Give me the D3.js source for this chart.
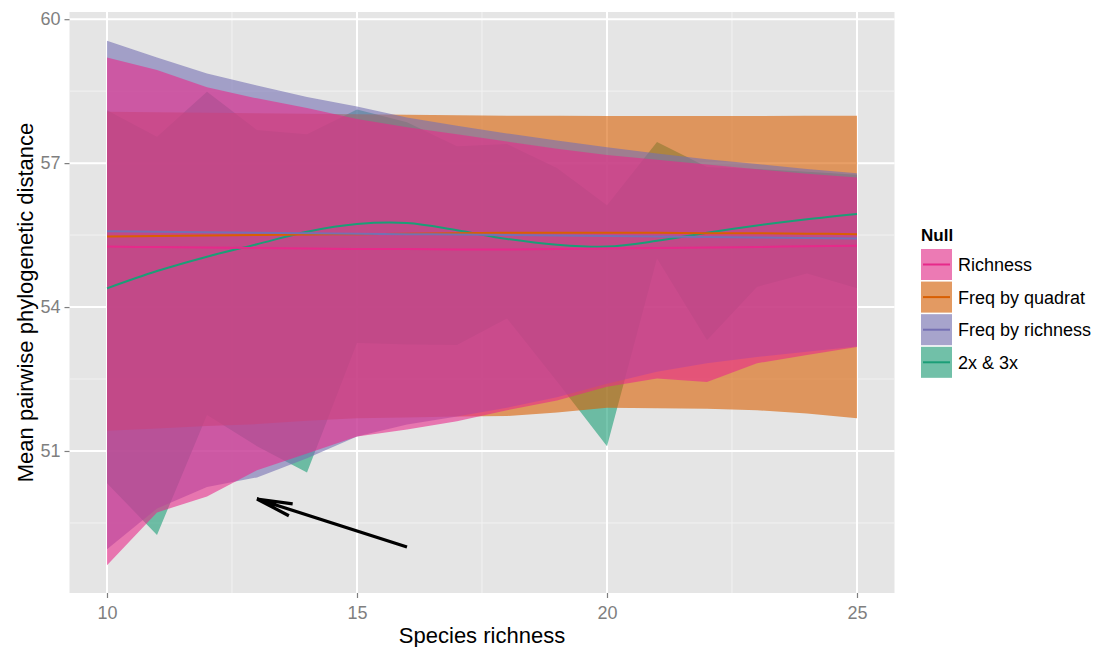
<!DOCTYPE html>
<html>
<head>
<meta charset="utf-8">
<script src="https://cdn.jsdelivr.net/npm/d3@7/dist/d3.min.js"></script>
<style>
  body { margin: 0; background: #ffffff; }
  text { font-family: "Liberation Sans", Arial, Helvetica, sans-serif; }
</style>
</head>
<body>
<svg id="chart" width="1094" height="647"></svg>
<script>
// ---- data -------------------------------------------------------------
const speciesRichness = [10, 11, 12, 13, 14, 15, 16, 17, 18, 19, 20, 21, 22, 23, 24, 25];

// Richness null
const richnessMean  = [55.26, 55.25, 55.24, 55.23, 55.22, 55.21, 55.21, 55.20, 55.20, 55.21, 55.22, 55.23, 55.24, 55.25, 55.27, 55.28];
const richnessLower = [48.62, 49.72, 50.05, 50.60, 50.95, 51.30, 51.45, 51.62, 51.85, 52.05, 52.34, 52.51, 52.44, 52.83, 53.00, 53.17];
const richnessUpper = [59.20, 58.94, 58.58, 58.35, 58.15, 57.92, 57.75, 57.60, 57.45, 57.30, 57.17, 57.07, 56.97, 56.87, 56.78, 56.70];

// Frequency by quadrat null
const quadratMean  = [55.47, 55.48, 55.49, 55.50, 55.51, 55.52, 55.53, 55.54, 55.55, 55.55, 55.55, 55.55, 55.54, 55.54, 55.53, 55.52];
const quadratLower = [51.42, 51.47, 51.52, 51.56, 51.63, 51.68, 51.70, 51.72, 51.73, 51.80, 51.90, 51.89, 51.88, 51.85, 51.78, 51.68];
const quadratUpper = [58.07, 58.06, 58.05, 58.04, 58.03, 58.02, 58.01, 58.00, 57.99, 57.99, 57.98, 57.98, 57.98, 57.98, 57.99, 57.99];

// Frequency by richness null
const freqRichMean  = [55.58, 55.57, 55.56, 55.55, 55.54, 55.53, 55.52, 55.51, 55.50, 55.49, 55.48, 55.47, 55.46, 55.45, 55.44, 55.43];
const freqRichLower = [48.95, 49.80, 50.25, 50.45, 50.85, 51.30, 51.55, 51.72, 51.90, 52.12, 52.40, 52.65, 52.83, 52.96, 53.07, 53.18];
const freqRichUpper = [59.55, 59.20, 58.87, 58.62, 58.38, 58.18, 57.95, 57.78, 57.62, 57.47, 57.33, 57.20, 57.08, 56.98, 56.88, 56.79];

// 2x & 3x null
const twoThreeMean  = [54.39, 54.75, 55.05, 55.31, 55.57, 55.73, 55.75, 55.60, 55.42, 55.30, 55.26, 55.38, 55.55, 55.70, 55.83, 55.94];
const twoThreeLower = [50.33, 49.25, 51.75, 51.10, 50.55, 53.25, 53.22, 53.21, 53.76, 52.45, 51.10, 55.01, 53.31, 54.42, 54.70, 54.39];
const twoThreeUpper = [58.10, 57.55, 58.49, 57.69, 57.60, 58.12, 57.85, 57.35, 57.40, 56.90, 56.12, 57.44, 56.92, 56.88, 56.82, 56.76];

const nullNames   = ["Richness", "Freq by quadrat", "Freq by richness", "2x & 3x"];
const nullColours = ["#E7298A", "#D95F02", "#7570B3", "#1B9E77"];
const drawOrder   = ["2x & 3x", "Freq by quadrat", "Freq by richness", "Richness"];

const xTicks = [10, 15, 20, 25];
const xMinor = [12.5, 17.5, 22.5];
const yTicks = [51, 54, 57, 60];
const yMinor = [49.5, 52.5, 55.5, 58.5];

// annotation arrow: from (x, y) to (x, y) in data units
const arrowFrom = [16, 49];
const arrowTo   = [13, 50];

// ---- assemble per-null series -------------------------------------------
const seriesTable = {
  "Richness":         { mean: richnessMean, lower: richnessLower, upper: richnessUpper },
  "Freq by quadrat":  { mean: quadratMean,  lower: quadratLower,  upper: quadratUpper },
  "Freq by richness": { mean: freqRichMean, lower: freqRichLower, upper: freqRichUpper },
  "2x & 3x":          { mean: twoThreeMean, lower: twoThreeLower, upper: twoThreeUpper }
};
const colour = d3.scaleOrdinal().domain(nullNames).range(nullColours);
const rows = name => speciesRichness.map((s, i) => ({
  s, mean: seriesTable[name].mean[i], lo: seriesTable[name].lower[i], hi: seriesTable[name].upper[i]
}));

// ---- layout ---------------------------------------------------------------
const svg = d3.select("#chart");
const panel = { left: 69.5, right: 894.5, top: 12, bottom: 593 };

const x = d3.scaleLinear().domain([9.25, 25.75]).range([panel.left, panel.right]);
const y = d3.scaleLinear().domain([48.04, 60.15]).range([panel.bottom, panel.top]);

// panel background
svg.append("rect")
  .attr("x", panel.left).attr("y", panel.top)
  .attr("width", panel.right - panel.left).attr("height", panel.bottom - panel.top)
  .attr("fill", "#E5E5E5");

const grid = svg.append("g");
grid.selectAll(".xminor").data(xMinor).join("line")
  .attr("x1", d => x(d)).attr("x2", d => x(d))
  .attr("y1", panel.top).attr("y2", panel.bottom)
  .attr("stroke", "#F2F2F2").attr("stroke-width", 1);
grid.selectAll(".yminor").data(yMinor).join("line")
  .attr("y1", d => y(d)).attr("y2", d => y(d))
  .attr("x1", panel.left).attr("x2", panel.right)
  .attr("stroke", "#F2F2F2").attr("stroke-width", 1);
grid.selectAll(".xmajor").data(xTicks).join("line")
  .attr("x1", d => x(d)).attr("x2", d => x(d))
  .attr("y1", panel.top).attr("y2", panel.bottom)
  .attr("stroke", "#FFFFFF").attr("stroke-width", 2);
grid.selectAll(".ymajor").data(yTicks).join("line")
  .attr("y1", d => y(d)).attr("y2", d => y(d))
  .attr("x1", panel.left).attr("x2", panel.right)
  .attr("stroke", "#FFFFFF").attr("stroke-width", 2);

// ---- ribbons ---------------------------------------------------------------
const ribbon = d3.area()
  .x(d => x(d.s)).y0(d => y(d.lo)).y1(d => y(d.hi))
  .curve(d3.curveLinear);

const ribbons = svg.append("g");
drawOrder.forEach(name => {
  ribbons.append("path")
    .datum(rows(name))
    .attr("d", ribbon)
    .attr("fill", colour(name))
    .attr("fill-opacity", 0.6);
});

// ---- smoothed mean lines -------------------------------------------------
const meanLine = d3.line()
  .x(d => x(d.s)).y(d => y(d.mean))
  .curve(d3.curveCatmullRom.alpha(0.5));

const lines = svg.append("g");
drawOrder.forEach(name => {
  lines.append("path")
    .datum(rows(name))
    .attr("d", meanLine)
    .attr("fill", "none")
    .attr("stroke", colour(name))
    .attr("stroke-width", 2);
});

// ---- arrow annotation ------------------------------------------------------
const ax0 = x(arrowFrom[0]), ay0 = y(arrowFrom[1]);
const ax1 = x(arrowTo[0]),   ay1 = y(arrowTo[1]);
const ang = Math.atan2(ay0 - ay1, ax0 - ax1);
const headLen = 36, headAng = 10 * Math.PI / 180;
const arrowPath = d3.path();
arrowPath.moveTo(ax0, ay0); arrowPath.lineTo(ax1, ay1);
arrowPath.moveTo(ax1 + headLen * Math.cos(ang - headAng), ay1 + headLen * Math.sin(ang - headAng));
arrowPath.lineTo(ax1, ay1);
arrowPath.lineTo(ax1 + headLen * Math.cos(ang + headAng), ay1 + headLen * Math.sin(ang + headAng));
svg.append("path")
  .attr("d", arrowPath.toString())
  .attr("fill", "none").attr("stroke", "#000").attr("stroke-width", 3.2)
  .attr("stroke-linecap", "butt").attr("stroke-linejoin", "miter");

// ---- axes ------------------------------------------------------------------
const xAxis = svg.append("g")
  .attr("transform", `translate(0,${panel.bottom})`)
  .call(d3.axisBottom(x).tickValues(xTicks).tickSize(5).tickPadding(8).tickFormat(d3.format("d")));
const yAxis = svg.append("g")
  .attr("transform", `translate(${panel.left},0)`)
  .call(d3.axisLeft(y).tickValues(yTicks).tickSize(5).tickPadding(4).tickFormat(d3.format("d")));

[xAxis, yAxis].forEach(g => {
  g.select(".domain").remove();
  g.selectAll(".tick line").attr("stroke", "#7F7F7F").attr("stroke-width", 1.2);
  g.selectAll(".tick text")
    .attr("fill", "#7F7F7F")
    .style("font-size", "18px")
    .style("font-family", "'Liberation Sans', Arial, sans-serif");
});

svg.append("text")
  .attr("x", (panel.left + panel.right) / 2).attr("y", 643)
  .attr("text-anchor", "middle")
  .style("font-size", "22px").attr("fill", "#000")
  .text("Species richness");

svg.append("text")
  .attr("transform", `translate(33,${(panel.top + panel.bottom) / 2}) rotate(-90)`)
  .attr("text-anchor", "middle")
  .style("font-size", "22px").attr("fill", "#000")
  .text("Mean pairwise phylogenetic distance");

// ---- legend ----------------------------------------------------------------
const legend = svg.append("g").attr("transform", "translate(921,0)");
legend.append("text")
  .attr("x", 0).attr("y", 241)
  .style("font-size", "17px").style("font-weight", "bold")
  .text("Null");

const keySize = 31, keyStep = 32.6, keyTop = 249;
nullNames.forEach((name, i) => {
  const ky = keyTop + i * keyStep;
  legend.append("rect")
    .attr("x", 0).attr("y", ky).attr("width", keySize).attr("height", keySize)
    .attr("fill", "#F2F2F2");
  legend.append("rect")
    .attr("x", 0).attr("y", ky).attr("width", keySize).attr("height", keySize)
    .attr("fill", colour(name)).attr("fill-opacity", 0.6);
  legend.append("line")
    .attr("x1", 2).attr("x2", keySize - 2)
    .attr("y1", ky + keySize / 2).attr("y2", ky + keySize / 2)
    .attr("stroke", colour(name)).attr("stroke-width", 2);
  legend.append("text")
    .attr("x", 37).attr("y", ky + keySize / 2 + 6.5)
    .style("font-size", "18px").attr("fill", "#000")
    .text(name);
});
</script>
</body>
</html>
